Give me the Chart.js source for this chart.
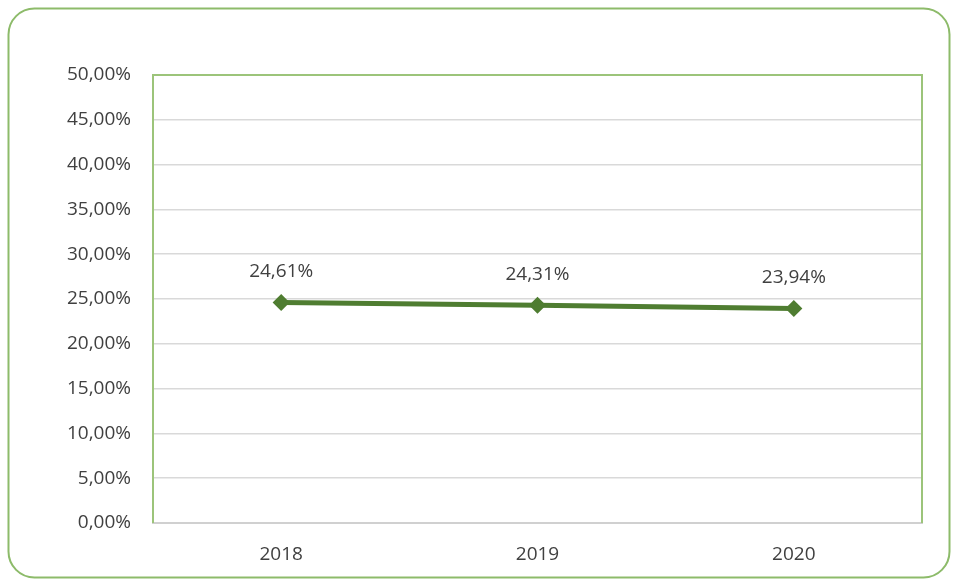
<!DOCTYPE html>
<html>
<head>
<meta charset="utf-8">
<script src="https://cdn.jsdelivr.net/npm/chart.js@4"></script>
<style>
  html, body { margin: 0; padding: 0; background: #fff; }
  #wrap { width: 956px; height: 583px; position: relative; }
</style>
</head>
<body>
<div id="wrap"><canvas id="chart"></canvas></div>
<script>
// Values per year (percent)
const years = ['2018', '2019', '2020'];
const rates = [24.61, 24.31, 23.94];
const yTicks = [0, 5, 10, 15, 20, 25, 30, 35, 40, 45, 50];

const GREEN = '#4f7d31';
const FRAME = '#8dbb6a';
const FONT = "'Open Sans', 'Noto Sans', sans-serif";
const TEXT = '#404040';

function pct(v) {
    return v.toFixed(2).replace('.', ',') + '%';
}

// Rounded outer frame and green plot border
const framePlugin = {
    id: 'frame',
    beforeDraw(chart) {
        const ctx = chart.ctx;
        ctx.save();
        ctx.strokeStyle = FRAME;
        ctx.lineWidth = 2;
        ctx.beginPath();
        ctx.roundRect(8.5, 8.5, 941, 569, 26);
        ctx.stroke();
        ctx.restore();
    },
    afterDatasetsDraw(chart) {
        const { ctx, chartArea: a } = chart;
        ctx.save();
        ctx.strokeStyle = '#9cc47a';
        ctx.lineWidth = 2;
        ctx.beginPath();
        ctx.moveTo(a.left, a.bottom);
        ctx.lineTo(a.left, a.top);
        ctx.lineTo(a.right, a.top);
        ctx.lineTo(a.right, a.bottom);
        ctx.stroke();
        ctx.restore();
    }
};

// Value labels above each point
const labelPlugin = {
    id: 'pointLabels',
    afterDatasetsDraw(chart) {
        const ctx = chart.ctx;
        const meta = chart.getDatasetMeta(0);
        ctx.save();
        ctx.font = '19px ' + FONT;
        ctx.fillStyle = TEXT;
        ctx.textAlign = 'center';
        ctx.textBaseline = 'middle';
        meta.data.forEach((pt, i) => {
            ctx.fillText(pct(rates[i]), pt.x, pt.y - 31);
        });
        ctx.restore();
    }
};

new Chart(document.getElementById('chart'), {
    type: 'line',
    data: {
        labels: years,
        datasets: [{
            data: rates,
            borderColor: GREEN,
            backgroundColor: GREEN,
            borderWidth: 5,
            pointStyle: 'rectRot',
            pointRadius: 5,
            pointBackgroundColor: GREEN,
            pointBorderColor: GREEN,
            tension: 0
        }]
    },
    options: {
        responsive: true,
        maintainAspectRatio: false,
        animation: false,
        layout: { padding: { top: 75, right: 34, left: 0, bottom: 0 } },
        plugins: {
            legend: { display: false },
            tooltip: { enabled: false }
        },
        scales: {
            x: {
                offset: true,
                grid: { display: false, drawTicks: false },
                border: { color: '#d0d0d0', width: 2 },
                ticks: { color: TEXT, font: { family: FONT, size: 19 }, padding: 20 },
                afterFit(scale) { scale.height = 60; }
            },
            y: {
                min: 0,
                max: 50,
                afterBuildTicks(scale) { scale.ticks = yTicks.map(v => ({ value: v })); },
                grid: { color: '#d9d9d9', lineWidth: 1.5, drawTicks: false },
                border: { display: false },
                ticks: {
                    color: TEXT,
                    font: { family: FONT, size: 19 },
                    padding: 22,
                    callback: v => pct(v)
                },
                afterFit(scale) { scale.width = 153; }
            }
        }
    },
    plugins: [framePlugin, labelPlugin]
});
</script>
</body>
</html>
